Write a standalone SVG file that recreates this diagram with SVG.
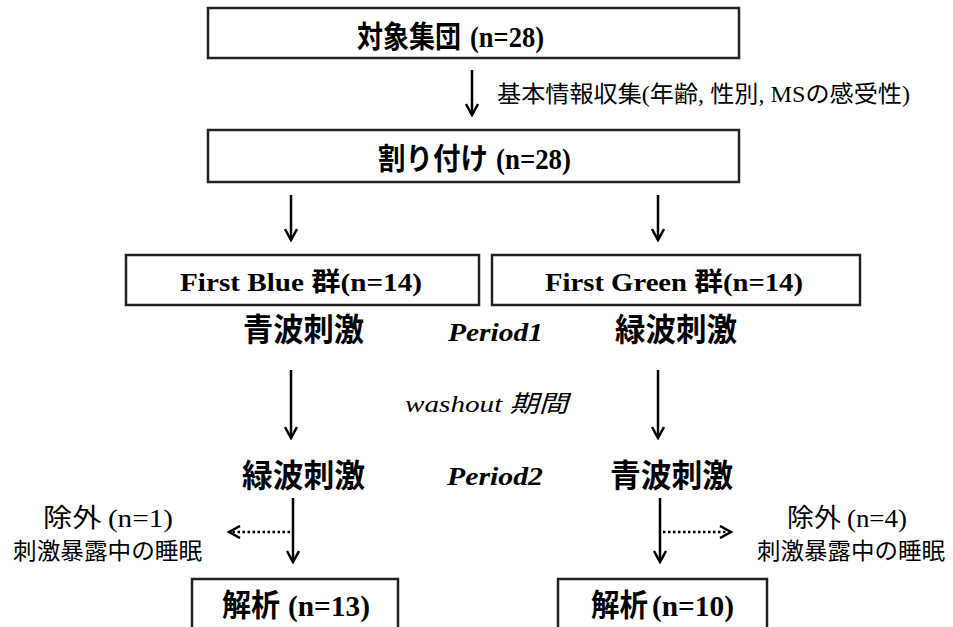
<svg xmlns="http://www.w3.org/2000/svg" width="953" height="627" viewBox="0 0 953 627">
<style>
.box{fill:#fff;stroke:#222;stroke-width:2.5}
.cjk{font-family:"Noto Sans CJK JP","Noto Sans CJK SC",sans-serif;fill:#000}
.ser{font-family:"Liberation Serif","Times New Roman",serif;fill:#000}
.b{font-weight:bold}
.i{font-style:italic}
.arr{stroke:#000;stroke-width:2.5;fill:none}
.dot{stroke:#000;stroke-width:2.5;fill:none;stroke-dasharray:2.5 2.5}
</style>
<defs>
<marker id="ah" viewBox="0 0 14 14" refX="12" refY="7" markerWidth="14" markerHeight="14" markerUnits="userSpaceOnUse" orient="auto">
<polyline points="1,1 12,7 1,13" fill="none" stroke="#000" stroke-width="2.5"/>
</marker>
</defs>
<g id="connectors">
<line class="arr" x1="472" y1="70" x2="472" y2="115" marker-end="url(#ah)"/>
<line class="arr" x1="291" y1="195" x2="291" y2="240" marker-end="url(#ah)"/>
<line class="arr" x1="658" y1="195" x2="658" y2="240" marker-end="url(#ah)"/>
<line class="arr" x1="291" y1="370" x2="291" y2="438" marker-end="url(#ah)"/>
<line class="arr" x1="658" y1="370" x2="658" y2="438" marker-end="url(#ah)"/>
<line class="arr" x1="293" y1="498" x2="293" y2="562" marker-end="url(#ah)"/>
<line class="arr" x1="660" y1="498" x2="660" y2="562" marker-end="url(#ah)"/>
<line class="dot" x1="290" y1="532" x2="229" y2="532" marker-end="url(#ah)"/>
<line class="dot" x1="663" y1="532" x2="731" y2="532" marker-end="url(#ah)"/>
</g>
<g id="population">
<rect class="box" x="208" y="8" width="531" height="50"/>
<text class="cjk b" x="357" y="47" font-size="30" textLength="104" lengthAdjust="spacingAndGlyphs">対象集団</text>
<text class="ser b" x="470" y="47" font-size="29" textLength="74" lengthAdjust="spacingAndGlyphs">(n=28)</text>
</g>
<g id="baseline-info">
<text x="497" y="102" font-size="23" textLength="413" lengthAdjust="spacingAndGlyphs"><tspan class="cjk">基本情報収集</tspan><tspan class="ser">(</tspan><tspan class="cjk">年齢</tspan><tspan class="ser">, </tspan><tspan class="cjk">性別</tspan><tspan class="ser">, MS</tspan><tspan class="cjk">の感受性</tspan><tspan class="ser">)</tspan></text>
</g>
<g id="allocation">
<rect class="box" x="208" y="130" width="531" height="52"/>
<text class="cjk b" x="378" y="169" font-size="30" textLength="110" lengthAdjust="spacingAndGlyphs">割り付け</text>
<text class="ser b" x="496" y="169" font-size="29" textLength="75" lengthAdjust="spacingAndGlyphs">(n=28)</text>
</g>
<g id="first-blue">
<rect class="box" x="126" y="255" width="353" height="50"/>
<text x="180" y="291" font-size="26" textLength="242" lengthAdjust="spacingAndGlyphs"><tspan class="ser b">First Blue </tspan><tspan class="cjk b">群</tspan><tspan class="ser b">(n=14)</tspan></text>
</g>
<g id="first-green">
<rect class="box" x="492" y="255" width="368" height="50"/>
<text x="545" y="291" font-size="26" textLength="258" lengthAdjust="spacingAndGlyphs"><tspan class="ser b">First Green </tspan><tspan class="cjk b">群</tspan><tspan class="ser b">(n=14)</tspan></text>
</g>
<g id="period1-blue">
<text class="cjk b" x="243" y="341" font-size="32" textLength="121" lengthAdjust="spacingAndGlyphs">青波刺激</text>
</g>
<g id="period1-label">
<text class="ser b i" x="448" y="341" font-size="26" textLength="95" lengthAdjust="spacingAndGlyphs">Period1</text>
</g>
<g id="period1-green">
<text class="cjk b" x="615" y="341" font-size="32" textLength="122" lengthAdjust="spacingAndGlyphs">緑波刺激</text>
</g>
<g id="washout">
<text x="405" y="412" font-size="24" textLength="163" lengthAdjust="spacingAndGlyphs"><tspan class="ser i">washout </tspan><tspan class="cjk i">期間</tspan></text>
</g>
<g id="period2-green">
<text class="cjk b" x="242" y="487" font-size="32" textLength="123" lengthAdjust="spacingAndGlyphs">緑波刺激</text>
</g>
<g id="period2-label">
<text class="ser b i" x="447" y="485" font-size="26" textLength="96" lengthAdjust="spacingAndGlyphs">Period2</text>
</g>
<g id="period2-blue">
<text class="cjk b" x="610" y="487" font-size="32" textLength="123" lengthAdjust="spacingAndGlyphs">青波刺激</text>
</g>
<g id="excluded-left">
<text x="43" y="527" font-size="26" textLength="130" lengthAdjust="spacingAndGlyphs"><tspan class="cjk">除外 </tspan><tspan class="ser">(n=1)</tspan></text>
<text class="cjk" x="13" y="559" font-size="23" textLength="189" lengthAdjust="spacingAndGlyphs">刺激暴露中の睡眠</text>
</g>
<g id="excluded-right">
<text x="787" y="527" font-size="26" textLength="120" lengthAdjust="spacingAndGlyphs"><tspan class="cjk">除外 </tspan><tspan class="ser">(n=4)</tspan></text>
<text class="cjk" x="757" y="559" font-size="23" textLength="188" lengthAdjust="spacingAndGlyphs">刺激暴露中の睡眠</text>
</g>
<g id="analysis-left">
<rect class="box" x="192" y="579" width="206" height="60"/>
<text class="cjk b" x="222" y="616" font-size="31" textLength="58" lengthAdjust="spacingAndGlyphs">解析</text>
<text class="ser b" x="288" y="616" font-size="30" textLength="82" lengthAdjust="spacingAndGlyphs">(n=13)</text>
</g>
<g id="analysis-right">
<rect class="box" x="558" y="579" width="209" height="60"/>
<text class="cjk b" x="591" y="616" font-size="31" textLength="57" lengthAdjust="spacingAndGlyphs">解析</text>
<text class="ser b" x="652" y="616" font-size="30" textLength="82" lengthAdjust="spacingAndGlyphs">(n=10)</text>
</g>
</svg>
